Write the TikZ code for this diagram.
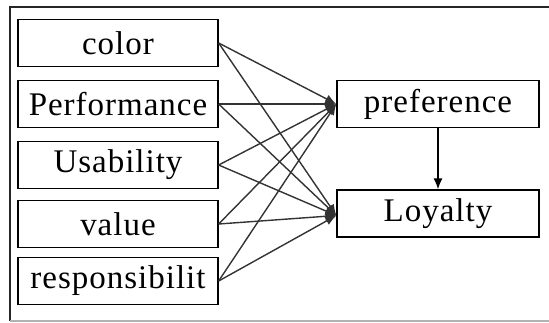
\documentclass[tikz,border=0pt]{standalone}
\usepackage{fontspec}
\setmainfont{Liberation Serif}[LetterSpace=3]
\usetikzlibrary{arrows.meta}
\begin{document}
\begin{tikzpicture}[x=1pt,y=-1pt,
  box/.style={draw=black,line width=1.3pt,minimum height=47pt,inner sep=0pt,font=\fontsize{33}{35}\selectfont},
  lbox/.style={box,minimum width=200pt},
  rbox/.style={box,minimum width=202pt},
  link/.style={draw=black!80,line width=1.4pt,-{Latex[length=11pt,width=9pt]}}]
\useasboundingbox (0,0) rectangle (549,322);
\draw[line width=2pt,black!85] (10,321) -- (10,7) -- (549,7);
\draw[line width=1.5pt,black!30] (10,321) -- (549,321);
\node[lbox] (c) at (118,43) {color};
\node[lbox] (p) at (118,104) {Performance};
\node[lbox] (u) at (118,165) {Usability};
\node[lbox] (v) at (118,224) {value};
\node[lbox] (r) at (118,281) {responsibilit};
\node[rbox] (pref) at (438,104) {preference};
\node[rbox] (loy) at (438,213.5) {Loyalty};
\foreach \n in {c,p,u,v,r}{
  \draw[link] (\n.east) -- (pref.west);
  \draw[link] (\n.east) -- ([yshift=-2pt]loy.west);
}
\draw[link,black] (pref) -- (loy);
\end{tikzpicture}
\end{document}
